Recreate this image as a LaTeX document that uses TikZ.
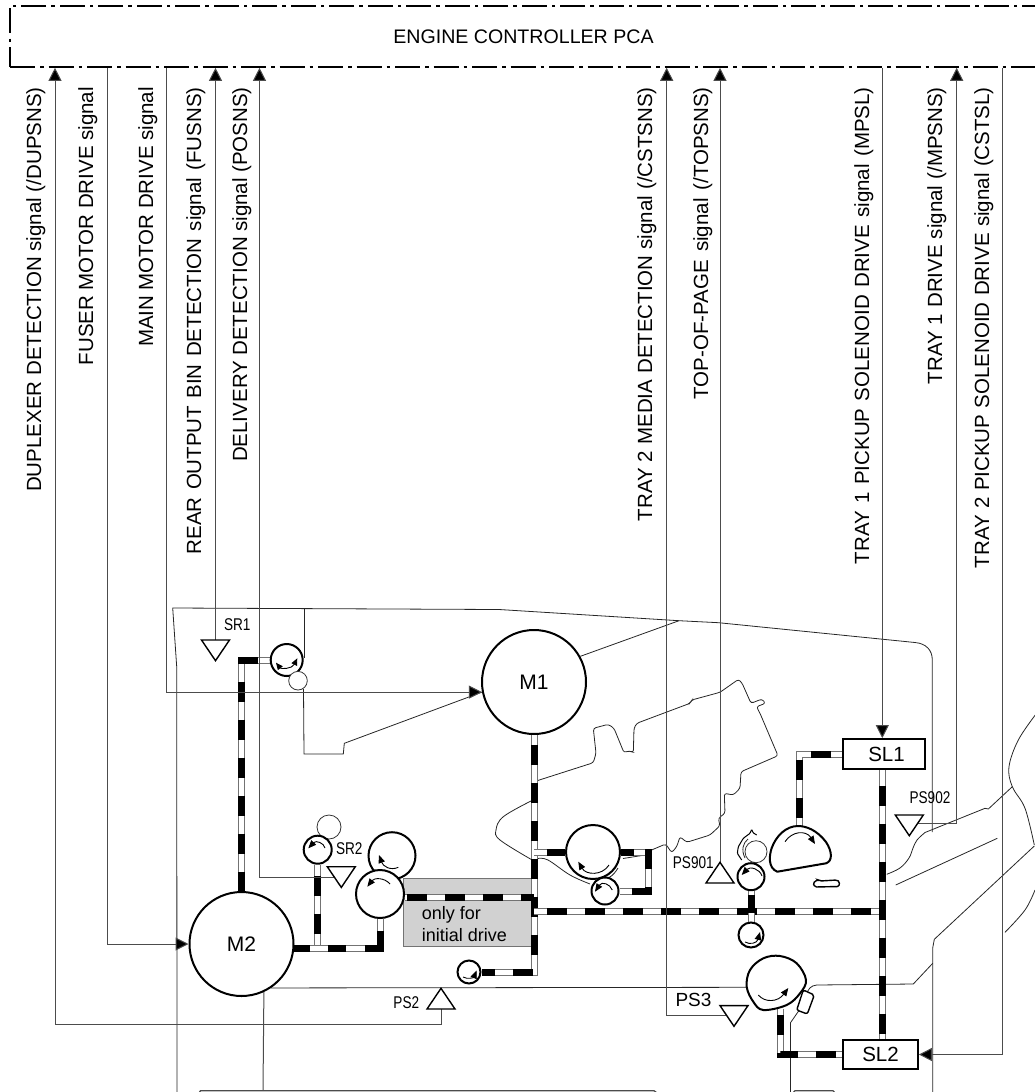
\documentclass[tikz,border=0pt]{standalone}
\usepackage{fontspec}
\setmainfont{Liberation Sans}
\newfontfamily\condfont[FakeStretch=0.8]{Liberation Sans}
\usetikzlibrary{arrows.meta,calc}
\pgfdeclarelayer{bg}
\pgfsetlayers{bg,main}
\newcommand\fs[1]{\fontsize{#1}{#1}\selectfont}
\tikzset{
  thinln/.style={line width=0.8pt,black!85},
  sig/.style={line width=1pt,black!70},
  sigarr/.style={sig,-{Triangle[length=13pt,width=13pt,fill=black]}},
  rollerb/.style={circle,draw=black,line width=2pt,fill=white,inner sep=0pt,minimum size=#1},
  rollert/.style={circle,draw=black!80,line width=0.8pt,fill=white,inner sep=0pt,minimum size=#1},
  motor/.style={circle,draw=black,line width=2pt,fill=white,inner sep=0pt,minimum size=104pt,font=\fs{21}},
  solbox/.style={rectangle,draw=black,line width=1.8pt,fill=white,inner sep=0pt,font=\fs{20.5}},
  vlab/.style={rotate=90,anchor=base east,inner sep=0pt,font=\fs{20.5}},
  small/.style={inner sep=0pt,font=\condfont\fs{17}},
  sensor/.style={draw=black,line width=1.4pt,line join=miter,fill=white},
  rarr/.style={line width=0.9pt,-{Triangle[length=8pt,width=6.5pt]}},
  shape2/.style={draw=black,line width=2pt,fill=white,line join=round},
  belt/.style={line width=7pt,draw=black!55,
    postaction={draw=white,line width=5pt},
    postaction={draw=black,line width=7pt,dash pattern=on 20pt off 18pt,dash phase=#1}},
  beltc/.style={line width=7pt,draw=black!55,
    postaction={draw=white,line width=5pt},
    postaction={draw=black,line width=7pt,dash pattern=#1}},
}
\newcommand\sensdown[3]{\coordinate (#1) at (#2,#3);
  \coordinate (#1w) at (#2-7,#3+10.35); \coordinate (#1e) at (#2+7,#3+10.35);
  \draw[sensor] (#1) ++(-14,0) -- ++(28,0) -- ++(-14,20.7) -- cycle;}
\newcommand\sensup[3]{\coordinate (#1) at (#2,#3);
  \coordinate (#1A) at (#2,#3-20.7);
  \draw[sensor] (#1) ++(-14,0) -- ++(28,0) -- ++(-14,-20.7) -- cycle;}
\newcommand\vlabel[5]{\node[vlab] (#1) at (#2,87) {\makebox[#3pt][s]{#4}};}
\begin{document}
\begin{tikzpicture}[x=1pt,y=-1pt]
\useasboundingbox (0,0) rectangle (1035,1092);
% ---- nodes
\node[draw=black,line width=1.6pt,dash pattern=on 25pt off 5pt on 3.5pt off 5pt,
      minimum width=1027pt,minimum height=61pt,inner sep=0pt,font=\fs{19.6}]
      (ecu) at (523.5,36.5) {ENGINE CONTROLLER PCA};
\node[motor] (m1) at (534,682) {M1};
\node[motor] (m2) at (241.5,944) {M2};
\node[solbox,minimum width=82pt,minimum height=30pt] (sl1) at (884,754) {\kern5pt SL1};
\node[solbox,minimum width=75pt,minimum height=29pt] (sl2) at (880.5,1054.5) {SL2};
\node[rollerb=32pt] (sr1r) at (286.7,660) {};
\node[rollert=18.6pt] (sr1s) at (298,680.7) {};
\node[rollert=24pt] (sr2s) at (329,827) {};
\node[rollerb=28pt] (sr2r) at (317.7,849.7) {};
\node[rollerb=47pt] (bru) at (392,855.7) {};
\node[rollerb=48pt] (brl) at (380,894) {};
\node[rollerb=23pt] (sm1) at (469,972) {};
\node[rollerb=54pt] (mr) at (593,852) {};
\node[rollerb=27pt] (sr) at (605,891) {};
\node[rollert=22pt] (cam) at (756,851.7) {};
\node[rollerb=27pt] (tr) at (751,876.7) {};
\node[rollerb=25pt] (lr) at (751,935) {};
% labels
\node[small] (lsr1) at (237.3,624.3) {SR1};
\node[small] (lsr2) at (349.3,848.3) {SR2};
\node[small] (lps2) at (406.3,1003) {PS2};
\node[small,font=\fs{19}] (lps3) at (693.5,1000) {PS3};
\node[small] (lps901) at (693.3,862.3) {PS901};
\node[small] (lps902) at (930,797.7) {PS902};
% sensors
\sensdown{sr1t}{215.5}{640}
\sensdown{sr2t}{341.3}{866.7}
\sensup{ps2}{441}{1009}
\sensdown{ps3}{734}{1005.6}
\sensup{ps901}{720}{883}
\sensdown{ps902}{909.3}{815}
% shapes
\draw[shape2] plot[smooth cycle,tension=.6] coordinates {(746.7,986.7)(750,970)(763.3,958.3)(780,956)(796.7,963.3)(806,980)(800,993.3)(786.7,1005)(763.3,1010)(753.3,1001.7)};
\coordinate (blobb) at (780,1009);
\draw[shape2] (777.3,871.7) -- (826,863.3) .. controls (833,861) and (832,851) .. (826,842) .. controls (817,830) and (806,826) .. (798,826) .. controls (786,826) and (776,836) .. (771.7,848) .. controls (769,856) and (768,868) .. (777.3,871.7) -- cycle;
\coordinate (moon) at (799.3,826);
\draw[line width=1.4pt,rounded corners=1.5pt,fill=white] (813,883)--(818,879.5)--(820,881)--(836.7,880)--(839.5,881.7)--(839,886.5)--(815,887)--cycle;
\draw[line width=1.4pt,rounded corners=2pt,fill=white] (803.3,990)--(814.3,995)--(807.3,1014)--(796.7,1010)--cycle;
% roller arrows
\draw[line width=.9pt,{Triangle[length=7pt,width=6pt]}-{Triangle[length=7pt,width=6pt]}] (276,662.7) .. controls (281,669) and (292,669) .. (297.3,658.3);
\draw[rarr] (325,848) .. controls (324,843) and (316,840) .. (308.3,848.3);
\draw[rarr] (398.3,867.3) .. controls (390,871) and (383,866) .. (379,855);
\draw[rarr] (390,884) .. controls (384,877) and (374,878) .. (367.3,886.7);
\draw[rarr] (463,977) .. controls (468,980) and (474,977) .. (476.7,970.5);
\draw[rarr] (609,865) .. controls (602,876) and (586,875) .. (578.3,861.7);
\draw[rarr] (612.3,890) .. controls (610,884) and (602,881) .. (595,891.7);
\draw[rarr] (762,876) .. controls (760,869) and (750,866) .. (741.7,875);
\draw[rarr] (745,942) .. controls (750,945) and (757,943) .. (760,932);
\draw[rarr] (758.3,995) .. controls (765,1003) and (778,1002) .. (788.3,988);
\draw[rarr] (785,841.7) .. controls (792,831) and (806,830) .. (815,844);
% ---- everything below the nodes
\begin{pgfonlayer}{bg}
% case outlines
\draw[thinln] (177,1092) -- (176.7,666.7) -- (172.7,608) -- (499,609.5) -- (679,620.7) -- (718.6,622.7) -- (915,642.5) .. controls (926,643.5) and (932.3,650) .. (932.3,660) -- (932.3,832);
\draw[thinln] (304,608.5) -- (304,658);
\draw[thinln] (sr1s.south) ++(5.5,-1.5) -- (304,754) -- (343.3,754) -- (344.3,743.3) -- (m1.191);
\draw[thinln] (m1.29) -- (679,620.7);
\draw[thinln,rounded corners=2.5pt] (534,781.7) -- (593.3,762.7) -- (596,753.3) -- (593.3,728.3) -- (608.3,724.3) -- (614,728.3) -- (624,752.7) -- (629.3,750.7) -- (633.3,752.7) -- (634,728.3) -- (636.7,723.3) -- (690,703.3) -- (691.7,700) -- (720,692.3) -- (738.5,679.3) -- (742,683) -- (751,703.3) -- (762,699) -- (765.5,703.3) -- (756.5,706.7) -- (760,713.3) -- (778,755.7) -- (741,771.7) -- (740,788.3) -- (733.3,795) -- (724.3,793.3) -- (725,813.3) -- (718.3,818.3) -- (720,825.7) -- (710,835) -- (686.7,842.3) -- (680,836.7) -- (676.7,846.7) -- (671.7,852.7) -- (665.7,844) -- (648,851.5);
\draw[thinln] plot[smooth,tension=.6] coordinates {(531,801)(503.3,816.7)(496,830)(500,840)(531,859.3)};
\draw[thinln] plot[smooth,tension=.6] coordinates {(538,858.5)(548,860)(570,875)(590,884)};
\draw[thinln] plot[smooth,tension=.6] coordinates {(600,882.5)(612,875.5)(618,868)};
\draw[thinln] (623,858.5) -- (645,855);
\draw[thinln] plot[smooth,tension=.6] coordinates {(886.7,874.3)(900,868)(909,858)(913,848)(917,840)(925,832.5)};
\draw[thinln] (925,832.5) -- (985,808.3) -- (988.3,809) -- (1012.3,786.7);
\draw[thinln] plot[smooth,tension=.6] coordinates {(1036,714)(1018.3,740)(1009,766.7)(1012.3,786.7)(1025,808.3)(1034.3,845)};
\draw[thinln] (1034.3,846) -- (934.3,939.3) -- (932.7,948) -- (932.7,1092);
\draw[thinln] (895.7,885) -- (997.3,838.3);
\draw[thinln] plot[smooth,tension=.6] coordinates {(1005,932.3)(1025,910)(1035,890)};
\draw[thinln] (932.7,963.3) -- (913.3,984) -- (816.7,985) .. controls (811,985.5) and (808,989) .. (806.7,994);
\draw[thinln] (800,1009) -- (790.5,1022.7) -- (790.5,1092);
\draw[thinln] (m2.-56.4) -- (746.7,987.3);
\draw[sig] (m2.-65) -- (263,1090.7);
\draw[line width=1.3pt,black!70] (199,1093) -- (200.5,1090.7) -- (654,1090.7) -- (657,1093);
\draw[line width=1.3pt,black!70] (793,1093) -- (795,1090.7) -- (833,1090.7) -- (835,1093);
% cam outline
\draw[line width=1pt,rounded corners=1pt] (741.7,860) -- (737.3,853.3) -- (738.3,846.7) -- (743.3,838.3) -- (750,833.3) -- (751.7,829.3) -- (753,832.7) -- (756.7,835);
\draw[thinln] (745,858) .. controls (741,850) and (743,843) .. (748,839);
% grey field
\node[draw=black!55,line width=1pt,fill=black!18,minimum width=128.4pt,minimum height=67.7pt,inner sep=0pt] (grey) at (467.5,912.2) {};
\node[anchor=base west,inner sep=0pt,font=\fs{18}] (note1) at (421.7,919.3) {only for};
\node[anchor=base west,inner sep=0pt,font=\fs{18}] (note2) at (421.7,941) {initial drive};
% belts
\coordinate (j0) at (317.7,949);
\coordinate (j1) at (534,911.7);
\coordinate (s8) at (882.3,0);
\coordinate (c8) at (648,891);
\draw[belt=27] (sr2r.south) -- (j0);
\draw[beltc={on 16pt off 18pt on 18pt off 19pt on 32pt off 50pt}] (m2.-5.5) -| (brl.south);
\draw[belt=26.3] (sr1r.west) -| (m2.north);
\draw[belt=28] (m1.south) |- (sm1.east);
\draw[belt=36] (brl.-7) -- (brl.-7 -| m1.south);
\draw[belt=25] (j1) -- (j1 -| s8);
\draw[belt=22] (s8 |- sl1.south) -- (s8 |- sl2.north);
\draw[belt=27] (sl1.west) -| (moon);
\draw[belt=25] (m1.south |- mr.west) -- (mr.west);
\draw[beltc={on 13pt off 11pt on 20pt off 18pt on 20pt off 60pt}] (mr.east) -| (c8) -- (sr.east);
\draw[beltc={on 0pt off 4pt on 18pt off 60pt}] (tr.south) -- (lr.north);
\draw[belt=32] (sl2.west) -| (blobb);
% signals
\coordinate (s1) at (55,1024);
\coordinate (s2) at (107.7,0);
\coordinate (s3) at (166.5,0);
\coordinate (s5) at (259.5,0);
\coordinate (s6) at (666.7,0);
\coordinate (s9) at (956.7,823);
\coordinate (s10) at (1002.7,0);
\draw[sigarr] (ps2) |- (s1) -- (ecu.south -| s1);
\draw[sigarr] (ecu.south -| s2) |- (m2.west);
\draw[sigarr] (ecu.south -| s3) |- (m1.191);
\draw[sigarr] (sr1t) -- (ecu.south -| sr1t);
\draw[sigarr] (sr2tw) -| (ecu.south -| s5);
\draw[sigarr] (ps3w) -| (ecu.south -| s6);
\draw[sigarr] (ps901A) -- (ecu.south -| ps901A);
\draw[sigarr] (ecu.south -| s8) -- (s8 |- sl1.north);
\draw[sigarr] (s9 -| ps902e) -- (s9) -- (ecu.south -| s9);
\draw[sigarr] (ecu.south -| s10) |- (sl2.east);
\end{pgfonlayer}
% vertical labels
\vlabel{v1}{41}{404.7}{DUPLEXER DETECTION signal (/DUPSNS)}{}
\vlabel{v2}{93}{278}{FUSER MOTOR DRIVE signal}{}
\vlabel{v3}{153}{259.7}{MAIN MOTOR DRIVE signal}{}
\vlabel{v4}{201}{467}{REAR OUTPUT BIN DETECTION signal (FUSNS)}{}
\vlabel{v5}{247}{374.7}{DELIVERY DETECTION signal (POSNS)}{}
\vlabel{v6}{652}{434}{TRAY 2 MEDIA DETECTION signal (/CSTSNS)}{}
\vlabel{v7}{708}{312}{TOP-OF-PAGE signal (/TOPSNS)}{}
\vlabel{v8}{869}{477}{TRAY 1 PICKUP SOLENOID DRIVE signal (MPSL)}{}
\vlabel{v9}{942}{297}{TRAY 1 DRIVE signal (/MPSNS)}{}
\vlabel{v10}{989}{481}{TRAY 2 PICKUP SOLENOID DRIVE signal (CSTSL)}{}
\end{tikzpicture}
\end{document}
